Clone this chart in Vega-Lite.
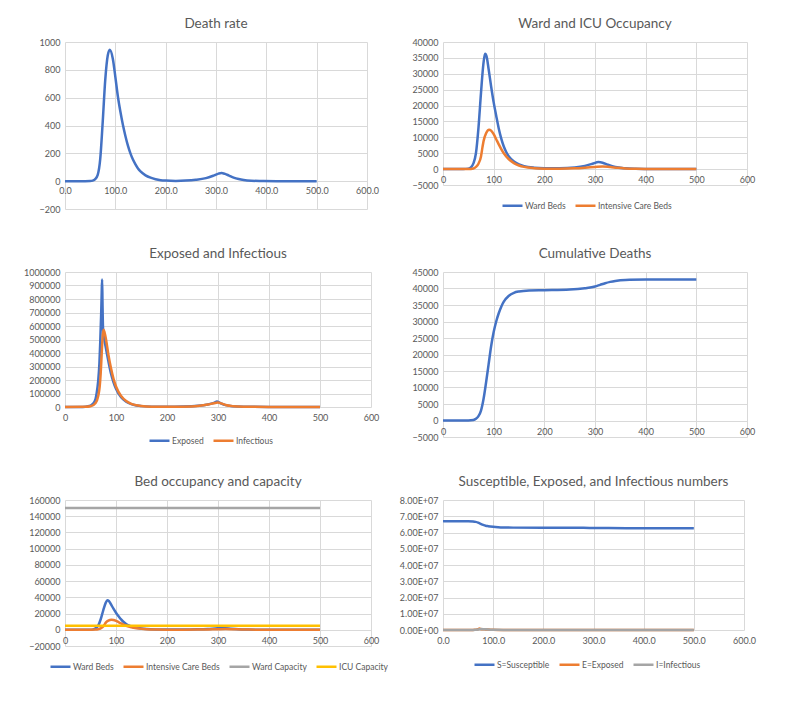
{
  "$schema": "https://vega.github.io/schema/vega-lite/v6.json",
  "background": "white",
  "padding": {"left": 23, "top": 16, "right": 5, "bottom": 5},
  "columns": 2,
  "bounds": "flush",
  "spacing": {"row": 63, "column": 72},
  "datasets": {
    "death": [{"t":0,"v":0},{"t":20,"v":0},{"t":40,"v":0},{"t":50,"v":1},{"t":55,"v":4},{"t":60,"v":15},{"t":65,"v":45},{"t":70,"v":160},{"t":75,"v":430},{"t":80,"v":730},{"t":85,"v":905},{"t":89,"v":945},{"t":95,"v":880},{"t":100,"v":750},{"t":105,"v":610},{"t":110,"v":500},{"t":115,"v":405},{"t":120,"v":325},{"t":125,"v":255},{"t":130,"v":200},{"t":135,"v":155},{"t":140,"v":120},{"t":145,"v":91},{"t":150,"v":70},{"t":160,"v":42},{"t":170,"v":25},{"t":180,"v":14},{"t":190,"v":7},{"t":200,"v":4},{"t":220,"v":2},{"t":240,"v":4},{"t":260,"v":10},{"t":280,"v":22},{"t":295,"v":40},{"t":305,"v":54},{"t":311,"v":58},{"t":318,"v":52},{"t":325,"v":42},{"t":335,"v":26},{"t":345,"v":15},{"t":355,"v":8},{"t":370,"v":3},{"t":390,"v":1},{"t":420,"v":0},{"t":500,"v":0}],
    "beds": [
      {"t":0,"s":"Ward Beds","v":0},{"t":40,"s":"Ward Beds","v":20},{"t":50,"s":"Ward Beds","v":150},{"t":55,"s":"Ward Beds","v":500},{"t":60,"s":"Ward Beds","v":1800},{"t":65,"s":"Ward Beds","v":5000},{"t":70,"s":"Ward Beds","v":13000},{"t":75,"s":"Ward Beds","v":24000},{"t":80,"s":"Ward Beds","v":33500},{"t":83,"s":"Ward Beds","v":36300},{"t":86,"s":"Ward Beds","v":35500},{"t":90,"s":"Ward Beds","v":31500},{"t":95,"s":"Ward Beds","v":26000},{"t":100,"s":"Ward Beds","v":21000},{"t":105,"s":"Ward Beds","v":16800},{"t":110,"s":"Ward Beds","v":12800},{"t":115,"s":"Ward Beds","v":9600},{"t":120,"s":"Ward Beds","v":7100},{"t":125,"s":"Ward Beds","v":5300},{"t":130,"s":"Ward Beds","v":4000},{"t":140,"s":"Ward Beds","v":2400},{"t":150,"s":"Ward Beds","v":1500},{"t":160,"s":"Ward Beds","v":950},{"t":180,"s":"Ward Beds","v":450},{"t":200,"s":"Ward Beds","v":280},{"t":230,"s":"Ward Beds","v":250},{"t":260,"s":"Ward Beds","v":500},{"t":280,"s":"Ward Beds","v":1000},{"t":295,"s":"Ward Beds","v":1700},{"t":307,"s":"Ward Beds","v":2200},{"t":315,"s":"Ward Beds","v":2000},{"t":325,"s":"Ward Beds","v":1400},{"t":340,"s":"Ward Beds","v":650},{"t":360,"s":"Ward Beds","v":250},{"t":380,"s":"Ward Beds","v":100},{"t":400,"s":"Ward Beds","v":50},{"t":450,"s":"Ward Beds","v":10},{"t":500,"s":"Ward Beds","v":0},
      {"t":0,"s":"Intensive Care Beds","v":0},{"t":50,"s":"Intensive Care Beds","v":30},{"t":60,"s":"Intensive Care Beds","v":200},{"t":65,"s":"Intensive Care Beds","v":700},{"t":70,"s":"Intensive Care Beds","v":1700},{"t":75,"s":"Intensive Care Beds","v":4000},{"t":78,"s":"Intensive Care Beds","v":7000},{"t":80,"s":"Intensive Care Beds","v":8800},{"t":85,"s":"Intensive Care Beds","v":11300},{"t":91,"s":"Intensive Care Beds","v":12400},{"t":95,"s":"Intensive Care Beds","v":12100},{"t":100,"s":"Intensive Care Beds","v":11000},{"t":105,"s":"Intensive Care Beds","v":9400},{"t":110,"s":"Intensive Care Beds","v":7800},{"t":115,"s":"Intensive Care Beds","v":6300},{"t":120,"s":"Intensive Care Beds","v":5000},{"t":130,"s":"Intensive Care Beds","v":3100},{"t":140,"s":"Intensive Care Beds","v":1900},{"t":150,"s":"Intensive Care Beds","v":1150},{"t":160,"s":"Intensive Care Beds","v":700},{"t":180,"s":"Intensive Care Beds","v":300},{"t":200,"s":"Intensive Care Beds","v":150},{"t":230,"s":"Intensive Care Beds","v":130},{"t":260,"s":"Intensive Care Beds","v":250},{"t":280,"s":"Intensive Care Beds","v":450},{"t":300,"s":"Intensive Care Beds","v":700},{"t":315,"s":"Intensive Care Beds","v":850},{"t":330,"s":"Intensive Care Beds","v":650},{"t":345,"s":"Intensive Care Beds","v":400},{"t":360,"s":"Intensive Care Beds","v":220},{"t":380,"s":"Intensive Care Beds","v":100},{"t":400,"s":"Intensive Care Beds","v":50},{"t":450,"s":"Intensive Care Beds","v":10},{"t":500,"s":"Intensive Care Beds","v":0}
    ],
    "ei": [
      {"t":0,"s":"Exposed","v":0},{"t":30,"s":"Exposed","v":500},{"t":40,"s":"Exposed","v":2000},{"t":50,"s":"Exposed","v":10000},{"t":55,"s":"Exposed","v":25000},{"t":60,"s":"Exposed","v":60000},{"t":62,"s":"Exposed","v":100000},{"t":65,"s":"Exposed","v":190000},{"t":67.5,"s":"Exposed","v":325000},{"t":69,"s":"Exposed","v":470000},{"t":71,"s":"Exposed","v":700000},{"t":72,"s":"Exposed","v":850000},{"t":72.8,"s":"Exposed","v":945000},{"t":73.5,"s":"Exposed","v":780000},{"t":74.5,"s":"Exposed","v":590000},{"t":76,"s":"Exposed","v":530000},{"t":78,"s":"Exposed","v":480000},{"t":80,"s":"Exposed","v":440000},{"t":85,"s":"Exposed","v":340000},{"t":90,"s":"Exposed","v":250000},{"t":95,"s":"Exposed","v":185000},{"t":100,"s":"Exposed","v":135000},{"t":110,"s":"Exposed","v":72000},{"t":120,"s":"Exposed","v":39000},{"t":130,"s":"Exposed","v":21000},{"t":140,"s":"Exposed","v":11500},{"t":150,"s":"Exposed","v":6500},{"t":170,"s":"Exposed","v":2300},{"t":200,"s":"Exposed","v":1200},{"t":230,"s":"Exposed","v":2800},{"t":260,"s":"Exposed","v":8500},{"t":280,"s":"Exposed","v":19000},{"t":292,"s":"Exposed","v":31000},{"t":298,"s":"Exposed","v":40000},{"t":304,"s":"Exposed","v":30000},{"t":315,"s":"Exposed","v":14000},{"t":330,"s":"Exposed","v":5500},{"t":350,"s":"Exposed","v":1800},{"t":400,"s":"Exposed","v":250},{"t":450,"s":"Exposed","v":30},{"t":500,"s":"Exposed","v":0},
      {"t":0,"s":"Infectious","v":0},{"t":40,"s":"Infectious","v":1000},{"t":50,"s":"Infectious","v":5000},{"t":60,"s":"Infectious","v":30000},{"t":65,"s":"Infectious","v":80000},{"t":68,"s":"Infectious","v":150000},{"t":70,"s":"Infectious","v":250000},{"t":72,"s":"Infectious","v":400000},{"t":74,"s":"Infectious","v":530000},{"t":75.5,"s":"Infectious","v":572000},{"t":77,"s":"Infectious","v":560000},{"t":80,"s":"Infectious","v":510000},{"t":85,"s":"Infectious","v":390000},{"t":90,"s":"Infectious","v":290000},{"t":95,"s":"Infectious","v":210000},{"t":100,"s":"Infectious","v":152000},{"t":110,"s":"Infectious","v":82000},{"t":120,"s":"Infectious","v":44000},{"t":130,"s":"Infectious","v":23500},{"t":140,"s":"Infectious","v":12500},{"t":150,"s":"Infectious","v":7000},{"t":170,"s":"Infectious","v":2500},{"t":200,"s":"Infectious","v":1200},{"t":230,"s":"Infectious","v":2600},{"t":260,"s":"Infectious","v":8000},{"t":280,"s":"Infectious","v":18000},{"t":292,"s":"Infectious","v":28000},{"t":300,"s":"Infectious","v":33000},{"t":306,"s":"Infectious","v":27000},{"t":315,"s":"Infectious","v":15000},{"t":330,"s":"Infectious","v":6000},{"t":350,"s":"Infectious","v":2000},{"t":400,"s":"Infectious","v":300},{"t":450,"s":"Infectious","v":30},{"t":500,"s":"Infectious","v":0}
    ],
    "cum": [{"t":0,"v":0},{"t":50,"v":20},{"t":60,"v":150},{"t":65,"v":500},{"t":70,"v":1300},{"t":75,"v":3000},{"t":80,"v":6500},{"t":85,"v":11500},{"t":90,"v":17000},{"t":95,"v":22500},{"t":100,"v":26800},{"t":105,"v":30000},{"t":110,"v":32500},{"t":115,"v":34500},{"t":120,"v":36000},{"t":130,"v":37800},{"t":140,"v":38700},{"t":150,"v":39100},{"t":170,"v":39400},{"t":200,"v":39500},{"t":250,"v":39700},{"t":280,"v":40100},{"t":300,"v":40600},{"t":310,"v":41100},{"t":320,"v":41600},{"t":330,"v":42000},{"t":340,"v":42300},{"t":360,"v":42600},{"t":400,"v":42700},{"t":500,"v":42750}],
    "cap": [{"t":0,"s":"Ward Capacity","v":150000},{"t":500,"s":"Ward Capacity","v":150000},{"t":0,"s":"ICU Capacity","v":5000},{"t":500,"s":"ICU Capacity","v":5000}],
    "sus": [{"t":0,"s":"Susceptible","v":67000000},{"t":50,"s":"Susceptible","v":66950000},{"t":60,"s":"Susceptible","v":66800000},{"t":65,"s":"Susceptible","v":66550000},{"t":70,"s":"Susceptible","v":66100000},{"t":75,"s":"Susceptible","v":65300000},{"t":80,"s":"Susceptible","v":64700000},{"t":85,"s":"Susceptible","v":64200000},{"t":90,"s":"Susceptible","v":63900000},{"t":100,"s":"Susceptible","v":63500000},{"t":110,"s":"Susceptible","v":63250000},{"t":120,"s":"Susceptible","v":63100000},{"t":140,"s":"Susceptible","v":63000000},{"t":200,"s":"Susceptible","v":62950000},{"t":280,"s":"Susceptible","v":62900000},{"t":300,"s":"Susceptible","v":62800000},{"t":330,"s":"Susceptible","v":62700000},{"t":400,"s":"Susceptible","v":62650000},{"t":500,"s":"Susceptible","v":62600000}]
  },
  "resolve": {"scale": {"color": "independent"}, "legend": {"color": "independent"}},
  "concat": [
    {
      "title": "Death rate",
      "width": 302, "height": 167,
      "data": {"name": "death"},
      "mark": {"type": "line", "interpolate": "monotone", "color": "#4472C4", "strokeWidth": 2.5},
      "encoding": {
        "x": {"field": "t", "type": "quantitative", "scale": {"domain": [0, 600], "nice": false}, "axis": {"title": null, "values": [0,100,200,300,400,500,600], "format": ".1f", "labelPadding": -23}},
        "y": {"field": "v", "type": "quantitative", "scale": {"domain": [-200, 1000], "nice": false}, "axis": {"title": null, "values": [-200,0,200,400,600,800,1000], "format": "d"}}
      }
    },
    {
      "title": "Ward and ICU Occupancy",
      "width": 304, "height": 143,
      "data": {"name": "beds"},
      "mark": {"type": "line", "interpolate": "monotone", "strokeWidth": 2.5},
      "encoding": {
        "x": {"field": "t", "type": "quantitative", "scale": {"domain": [0, 600], "nice": false}, "axis": {"title": null, "values": [0,100,200,300,400,500,600], "format": "d", "labelPadding": -10}},
        "y": {"field": "v", "type": "quantitative", "scale": {"domain": [-5000, 40000], "nice": false}, "axis": {"title": null, "values": [-5000,0,5000,10000,15000,20000,25000,30000,35000,40000], "format": "d"}},
        "color": {"field": "s", "type": "nominal", "scale": {"domain": ["Ward Beds", "Intensive Care Beds"], "range": ["#4472C4", "#ED7D31"]}, "legend": {"title": null, "orient": "none", "direction": "horizontal", "legendX": 58, "legendY": 152}}
      }
    },
    {
      "title": "Exposed and Infectious",
      "width": 306, "height": 135,
      "data": {"name": "ei"},
      "mark": {"type": "line", "interpolate": "monotone", "strokeWidth": 2.5},
      "encoding": {
        "x": {"field": "t", "type": "quantitative", "scale": {"domain": [0, 600], "nice": false}, "axis": {"title": null, "values": [0,100,200,300,400,500,600], "format": "d", "labelPadding": 6}},
        "y": {"field": "v", "type": "quantitative", "scale": {"domain": [0, 1000000], "nice": false}, "axis": {"title": null, "values": [0,100000,200000,300000,400000,500000,600000,700000,800000,900000,1000000], "format": "d"}},
        "color": {"field": "s", "type": "nominal", "scale": {"domain": ["Exposed", "Infectious"], "range": ["#4472C4", "#ED7D31"]}, "legend": {"title": null, "orient": "none", "direction": "horizontal", "legendX": 83, "legendY": 157}}
      }
    },
    {
      "title": "Cumulative Deaths",
      "width": 304, "height": 165,
      "data": {"name": "cum"},
      "mark": {"type": "line", "interpolate": "monotone", "color": "#4472C4", "strokeWidth": 2.5},
      "encoding": {
        "x": {"field": "t", "type": "quantitative", "scale": {"domain": [0, 600], "nice": false}, "axis": {"title": null, "values": [0,100,200,300,400,500,600], "format": "d", "labelPadding": -10}},
        "y": {"field": "v", "type": "quantitative", "scale": {"domain": [-5000, 45000], "nice": false}, "axis": {"title": null, "values": [-5000,0,5000,10000,15000,20000,25000,30000,35000,40000,45000], "format": "d"}}
      }
    },
    {
      "title": "Bed occupancy and capacity",
      "width": 306, "height": 146,
      "encoding": {
        "x": {"field": "t", "type": "quantitative", "scale": {"domain": [0, 600], "nice": false}, "axis": {"title": null, "values": [0,100,200,300,400,500,600], "format": "d", "labelPadding": -10}},
        "y": {"field": "v", "type": "quantitative", "scale": {"domain": [-20000, 160000], "nice": false}, "axis": {"title": null, "values": [-20000,0,20000,40000,60000,80000,100000,120000,140000,160000], "format": "d"}},
        "color": {"field": "s", "type": "nominal", "scale": {"domain": ["Ward Beds", "Intensive Care Beds", "Ward Capacity", "ICU Capacity"], "range": ["#4472C4", "#ED7D31", "#A5A5A5", "#FFC000"]}, "legend": {"title": null, "orient": "none", "direction": "horizontal", "legendX": -16, "legendY": 155}}
      },
      "layer": [
        {"data": {"name": "beds"}, "mark": {"type": "line", "interpolate": "monotone", "strokeWidth": 2.5}},
        {"data": {"name": "cap"}, "mark": {"type": "line", "strokeWidth": 2.5}}
      ]
    },
    {
      "title": "Susceptible,  Exposed, and Infectious numbers",
      "width": 301, "height": 130,
      "encoding": {
        "x": {"field": "t", "type": "quantitative", "scale": {"domain": [0, 600], "nice": false}, "axis": {"title": null, "values": [0,100,200,300,400,500,600], "format": ".1f", "labelPadding": 6}},
        "y": {"field": "v", "type": "quantitative", "scale": {"domain": [0, 80000000], "nice": false}, "axis": {"title": null, "values": [0,10000000,20000000,30000000,40000000,50000000,60000000,70000000,80000000], "labelExpr": "replace(upper(format(datum.value, '.2e')), 'E+', 'E+0')"}},
        "color": {"field": "s", "type": "nominal", "scale": {"domain": ["Susceptible", "Exposed", "Infectious"], "range": ["#4472C4", "#ED7D31", "#A5A5A5"]}, "legend": {"title": null, "orient": "none", "direction": "horizontal", "legendX": 30, "legendY": 153, "labelExpr": "datum.label == 'Susceptible' ? 'S=Susceptible' : datum.label == 'Exposed' ? 'E=Exposed' : 'I=Infectious'"}}
      },
      "layer": [
        {"data": {"name": "sus"}, "mark": {"type": "line", "interpolate": "monotone", "strokeWidth": 2.5}},
        {"data": {"name": "ei"}, "mark": {"type": "line", "interpolate": "monotone", "strokeWidth": 2.5}}
      ]
    }
  ],
  "config": {
    "font": "Lato",
    "view": {"stroke": null},
    "title": {"fontSize": 13.5, "fontWeight": "normal", "color": "#595959", "offset": 8, "font": "Lato"},
    "axis": {"labelFont": "Lato", "labelFontSize": 9, "labelColor": "#595959", "gridColor": "#D9D9D9", "gridWidth": 1, "domain": false, "ticks": false, "labelFlush": false, "labelOverlap": false},
    "axisY": {"labelPadding": 5},
    "legend": {"labelFont": "Lato", "labelFontSize": 8.5, "labelColor": "#595959", "symbolType": "stroke", "symbolSize": 400, "symbolStrokeWidth": 2.5, "columnPadding": 4, "labelOffset": 1}
  }
}
